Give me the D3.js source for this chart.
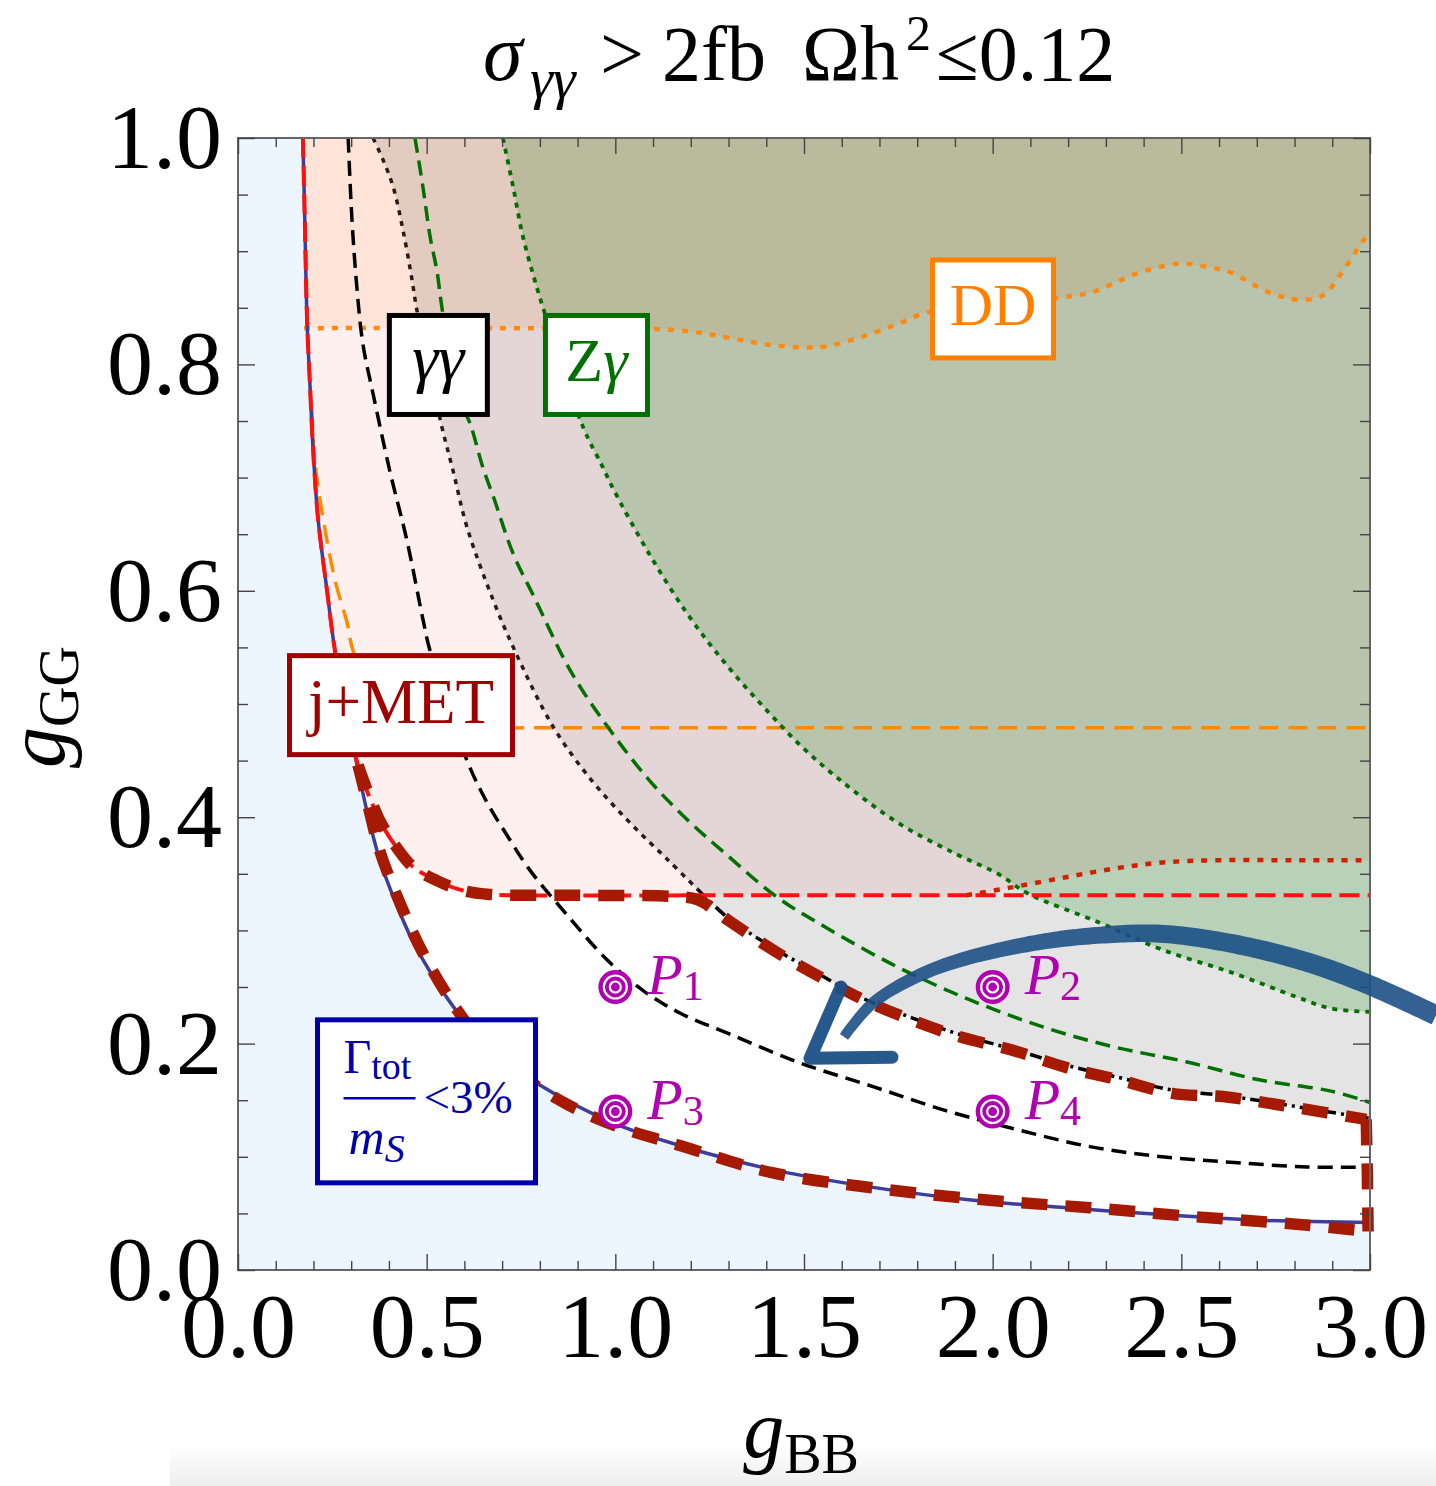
<!DOCTYPE html>
<html>
<head>
<meta charset="utf-8">
<script src="https://cdn.jsdelivr.net/npm/d3@7"></script>
<style>
  html, body { margin: 0; padding: 0; background: #fff; }
  svg { display: block; }
  text { font-family: "Liberation Serif", "Times New Roman", serif; }
</style>
</head>
<body>
<svg id="chart" width="1436" height="1486"></svg>
<script>
// ---------------------------------------------------------------
// Contours in the (gBB, gGG) plane, each as [gBB, gGG] pairs
// ---------------------------------------------------------------

// Total width bound: Gamma_tot / m_S = 3 %
const widthCurve = [
  [0.172, 1.000], [0.177, 0.928], [0.183, 0.839], [0.191, 0.780], [0.199, 0.725],
  [0.212, 0.664], [0.236, 0.600], [0.257, 0.547], [0.288, 0.492], [0.310, 0.455],
  [0.342, 0.405], [0.376, 0.362], [0.421, 0.322], [0.464, 0.290], [0.527, 0.254],
  [0.588, 0.225], [0.665, 0.196], [0.792, 0.165], [0.994, 0.130], [1.171, 0.110],
  [1.426, 0.088], [1.683, 0.073], [1.937, 0.062], [2.194, 0.055], [2.449, 0.049],
  [2.706, 0.044], [3.000, 0.042]
];

// Mono-jet + missing energy bound (dashed red)
const jmetCurve = [
  [0.172, 1.000], [0.177, 0.928], [0.183, 0.839], [0.191, 0.780], [0.199, 0.725],
  [0.212, 0.664], [0.236, 0.600], [0.257, 0.547], [0.288, 0.492], [0.318, 0.446],
  [0.376, 0.397], [0.421, 0.373], [0.464, 0.356], [0.527, 0.344], [0.588, 0.336],
  [0.660, 0.332], [0.747, 0.331], [1.300, 0.331], [1.930, 0.331], [2.500, 0.331],
  [3.000, 0.331]
];
// Mono-jet bound, upper branch (dotted red)
const jmetUpper = [
  [1.930, 0.331], [2.050, 0.338], [2.194, 0.347], [2.330, 0.355], [2.449, 0.360],
  [2.600, 0.362], [2.800, 0.362], [3.000, 0.362]
];

// Diphoton resonance search (dashed black)
const diphotonCurve = [
  [0.292, 1.000], [0.302, 0.928], [0.315, 0.868], [0.331, 0.818], [0.358, 0.774],
  [0.403, 0.705], [0.448, 0.644], [0.490, 0.575], [0.509, 0.547], [0.607, 0.450],
  [0.660, 0.413], [0.713, 0.384], [0.774, 0.353], [0.861, 0.318], [0.978, 0.274],
  [1.073, 0.247], [1.171, 0.227], [1.299, 0.209], [1.489, 0.183], [1.683, 0.162],
  [1.874, 0.141], [2.065, 0.124], [2.258, 0.109], [2.449, 0.100], [2.640, 0.095],
  [2.833, 0.091], [3.000, 0.091]
];

// Edge of the grey excluded band: dotted part, then dot-dashed part
const greyDotted = [
  [0.358, 1.000], [0.384, 0.981], [0.411, 0.957], [0.437, 0.919], [0.461, 0.875],
  [0.474, 0.848], [0.509, 0.795], [0.538, 0.748], [0.570, 0.706], [0.607, 0.656],
  [0.676, 0.592], [0.731, 0.549], [0.835, 0.480], [0.936, 0.433], [1.039, 0.395],
  [1.140, 0.362], [1.219, 0.336]
];
const greyDotDash = [
  [1.219, 0.336], [1.299, 0.311], [1.426, 0.283], [1.542, 0.261], [1.656, 0.240],
  [1.784, 0.223], [1.913, 0.208], [2.054, 0.195], [2.194, 0.181], [2.335, 0.170],
  [2.475, 0.159], [2.616, 0.154], [2.756, 0.147], [2.883, 0.140], [3.000, 0.134]
];

// Z-photon search: dashed line and dotted excluded-region edge (green)
const zgammaDashed = [
  [0.469, 1.000], [0.490, 0.957], [0.509, 0.913], [0.527, 0.883], [0.543, 0.845],
  [0.596, 0.762], [0.615, 0.748], [0.649, 0.709], [0.678, 0.682], [0.729, 0.633],
  [0.784, 0.595], [0.885, 0.527], [0.986, 0.477], [1.089, 0.433], [1.190, 0.398],
  [1.291, 0.368], [1.426, 0.330], [1.556, 0.303], [1.746, 0.268], [1.937, 0.239],
  [2.131, 0.215], [2.322, 0.197], [2.512, 0.184], [2.706, 0.168], [2.897, 0.158],
  [3.000, 0.148]
];
const zgammaDotted = [
  [0.702, 1.000], [0.729, 0.957], [0.755, 0.913], [0.792, 0.868], [0.819, 0.839],
  [0.914, 0.745], [0.967, 0.709], [0.996, 0.689], [1.089, 0.633], [1.190, 0.580],
  [1.291, 0.536], [1.394, 0.497], [1.495, 0.462], [1.595, 0.433], [1.749, 0.395],
  [1.900, 0.368], [2.019, 0.349], [2.091, 0.333], [2.282, 0.307], [2.449, 0.283],
  [2.640, 0.262], [2.807, 0.241], [2.897, 0.231], [3.000, 0.228]
];

// Direct detection: dotted excluded-region edge and dashed line (orange)
const ddDotted = [
  [0.175, 0.832], [0.600, 0.832], [1.171, 0.830], [1.293, 0.824], [1.391, 0.818],
  [1.500, 0.815], [1.561, 0.816], [1.659, 0.825], [1.744, 0.835], [1.829, 0.846],
  [2.181, 0.859], [2.266, 0.864], [2.388, 0.881], [2.497, 0.889], [2.571, 0.886],
  [2.632, 0.881], [2.730, 0.864], [2.815, 0.857], [2.876, 0.861], [2.923, 0.880],
  [2.984, 0.910], [3.000, 0.916]
];
const ddDashed = [
  [0.196, 0.760], [0.204, 0.713], [0.236, 0.644], [0.262, 0.603], [0.289, 0.572],
  [0.305, 0.547], [0.360, 0.510], [0.450, 0.485], [0.588, 0.479], [0.800, 0.479],
  [1.500, 0.479], [2.200, 0.479], [3.000, 0.479]
];

// Boundary of the surviving region (thick dashed dark red)
const allowedUpper = [
  [0.318, 0.446], [0.376, 0.397], [0.421, 0.373], [0.464, 0.356], [0.527, 0.344],
  [0.588, 0.336], [0.660, 0.332], [0.900, 0.331], [1.153, 0.330], [1.219, 0.327],
  [1.299, 0.309], [1.426, 0.281], [1.542, 0.259], [1.656, 0.239], [1.784, 0.221],
  [1.913, 0.206], [2.054, 0.194], [2.194, 0.179], [2.335, 0.168], [2.475, 0.156],
  [2.616, 0.153], [2.756, 0.146], [2.883, 0.139], [2.990, 0.133]
];
const allowedRight = [[2.990, 0.133], [2.993, 0.084], [2.995, 0.034]];
const allowedLower = [
  [0.318, 0.446], [0.342, 0.414], [0.376, 0.370], [0.437, 0.318], [0.490, 0.280],
  [0.570, 0.235], [0.649, 0.201], [0.755, 0.171], [0.880, 0.145], [1.012, 0.126],
  [1.171, 0.110], [1.415, 0.086], [1.696, 0.072], [1.977, 0.062], [2.258, 0.055],
  [2.539, 0.047], [2.820, 0.040], [2.995, 0.034]
];

// Benchmark points
const pointNames = ["1", "2", "3", "4"];
const pointBB = [1.0, 2.0, 1.0, 2.0];
const pointGG = [0.25, 0.25, 0.14, 0.14];

// Sweep arrow (shaft from tail to tip, then the head)
const arrowShaft = [
  [3.175, 0.225], [2.997, 0.252], [2.833, 0.272], [2.640, 0.288], [2.449, 0.297],
  [2.295, 0.296], [2.131, 0.290], [1.937, 0.276], [1.810, 0.261], [1.683, 0.236],
  [1.606, 0.206]
];
const arrowHead = [[1.598, 0.250], [1.516, 0.187], [1.733, 0.188]];

// Axis ticks
const xMajorTicks = [0, 0.5, 1.0, 1.5, 2.0, 2.5, 3.0];
const xTickLabels = ["0.0", "0.5", "1.0", "1.5", "2.0", "2.5", "3.0"];
const yMajorTicks = [0, 0.2, 0.4, 0.6, 0.8, 1.0];
const yTickLabels = ["0.0", "0.2", "0.4", "0.6", "0.8", "1.0"];
const xMinorTicks = d3.range(0, 3.0001, 0.1).filter(v => Math.abs(v * 2 - Math.round(v * 2)) > 1e-6);
const yMinorTicks = d3.range(0, 1.0001, 0.05).filter(v => Math.abs(v * 5 - Math.round(v * 5)) > 1e-6);

// ---------------------------------------------------------------
const svg = d3.select("#chart");
const x = d3.scaleLinear().domain([0, 3]).range([238, 1370]);
const y = d3.scaleLinear().domain([0, 1]).range([1270, 138]);

const smooth = d3.line().x(d => x(d[0])).y(d => y(d[1])).curve(d3.curveCatmullRom.alpha(0.5));
const straight = d3.line().x(d => x(d[0])).y(d => y(d[1]));
const region = (pts, corners) =>
  smooth(pts) + corners.map(c => `L${x(c[0])},${y(c[1])}`).join("") + "Z";

const defs = svg.append("defs");
defs.append("clipPath").attr("id", "plotClip")
  .append("rect").attr("x", x(0)).attr("y", y(1))
  .attr("width", x(3) - x(0)).attr("height", y(0) - y(1));
defs.append("clipPath").attr("id", "aboveWidth")
  .append("path").attr("d", region(widthCurve, [[3, 1]]));

const haze = defs.append("linearGradient").attr("id", "haze")
  .attr("x1", 0).attr("y1", 0).attr("x2", 0).attr("y2", 1);
haze.append("stop").attr("offset", 0).attr("stop-color", "#fff");
haze.append("stop").attr("offset", 1).attr("stop-color", "#eeeeee");
svg.append("rect").attr("x", 170).attr("y", 1445).attr("width", 1266).attr("height", 41)
  .attr("fill", "url(#haze)");

const plot = svg.append("g").attr("clip-path", "url(#plotClip)");

// excluded by the width bound
plot.append("rect").attr("x", x(0)).attr("y", y(1))
  .attr("width", x(3) - x(0)).attr("height", y(0) - y(1)).attr("fill", "#edf5fe");
plot.append("path").attr("d", region(widthCurve, [[3, 1]])).attr("fill", "#ffffff");

// shaded exclusion regions
const shade = plot.append("g").attr("clip-path", "url(#aboveWidth)");
const pinkEdge = jmetCurve.filter(d => d[0] < 1.93).concat(jmetUpper);
shade.append("path").attr("d", region(pinkEdge, [[3, 1]])).attr("fill", "rgba(255,0,0,0.06)");
shade.append("path").attr("d", region(ddDotted, [[3, 1], [0.17, 1]])).attr("fill", "rgba(255,128,0,0.10)");
shade.append("path").attr("d", region(greyDotted.concat(greyDotDash.slice(1)), [[3, 1]]))
  .attr("fill", "rgba(0,0,0,0.105)");
shade.append("path").attr("d", region(zgammaDotted, [[3, 1]])).attr("fill", "rgba(0,120,0,0.19)");

// contour lines
const lines = plot.append("g").attr("fill", "none");
function drawLine(pts, color, width, dash) {
  lines.append("path").attr("d", smooth(pts)).attr("stroke", color)
    .attr("stroke-width", width).attr("stroke-dasharray", dash || null);
}
drawLine(ddDashed, "#ff8a00", 3.5, "19,10");
drawLine(ddDotted, "#ff8a12", 4.5, "6,8");
drawLine(zgammaDotted, "#006e00", 3.8, "5,6");
drawLine(zgammaDashed, "#007000", 3.5, "15,8");
drawLine(greyDotted, "#2a1a1a", 3.5, "5,6");
drawLine(greyDotDash, "#000", 3.5, "12,5,3,5");
drawLine(diphotonCurve, "#000", 3.5, "15,8");
drawLine(widthCurve, "#3d3d9c", 3.5);
drawLine(jmetCurve, "#ff1010", 4, "20,8");
drawLine(jmetUpper, "#d02000", 4.5, "6,8");

// surviving-region boundary
const bound = svg.append("g").attr("fill", "none").attr("stroke", "#a51a00")
  .attr("stroke-width", 11.5).attr("stroke-dasharray", "26,18");
bound.append("path").attr("d", smooth(allowedUpper));
bound.append("path").attr("d", straight(allowedRight));
bound.append("path").attr("d", smooth(allowedLower));

// frame and ticks
svg.append("rect").attr("x", x(0)).attr("y", y(1))
  .attr("width", x(3) - x(0)).attr("height", y(0) - y(1))
  .attr("fill", "none").attr("stroke", "#666").attr("stroke-width", 2);

function axisGroup(axis, tx, ty) {
  const g = svg.append("g").attr("transform", `translate(${tx},${ty})`).call(axis);
  g.select(".domain").remove();
  g.selectAll(".tick line").attr("stroke", "#444").attr("stroke-width", 1.4);
  return g;
}
axisGroup(d3.axisBottom(x).tickValues(xMinorTicks).tickSize(-9).tickFormat(""), 0, y(0));
axisGroup(d3.axisTop(x).tickValues(xMinorTicks).tickSize(-9).tickFormat(""), 0, y(1));
axisGroup(d3.axisTop(x).tickValues(xMajorTicks).tickSize(-16).tickFormat(""), 0, y(1));
axisGroup(d3.axisLeft(y).tickValues(yMinorTicks).tickSize(-10).tickFormat(""), x(0), 0);
axisGroup(d3.axisRight(y).tickValues(yMinorTicks).tickSize(-10).tickFormat(""), x(3), 0);
axisGroup(d3.axisRight(y).tickValues(yMajorTicks).tickSize(-17).tickFormat(""), x(3), 0);

const bx = axisGroup(d3.axisBottom(x).tickValues(xMajorTicks).tickSize(-16).tickPadding(22)
  .tickFormat((d, i) => xTickLabels[i]), 0, y(0));
bx.selectAll("text").attr("font-size", 92).attr("fill", "#000")
  .attr("font-family", "Liberation Serif");
const ly = axisGroup(d3.axisLeft(y).tickValues(yMajorTicks).tickSize(-17).tickPadding(16)
  .tickFormat((d, i) => yTickLabels[i]), x(0), 0);
ly.selectAll("text").attr("font-size", 92).attr("fill", "#000")
  .attr("font-family", "Liberation Serif");

// sweep arrow: tapered brush stroke plus head
const guide = svg.append("path")
  .attr("d", d3.line().x(d => x(d[0])).y(d => y(d[1])).curve(d3.curveCatmullRom)(arrowShaft))
  .attr("fill", "none");
const gNode = guide.node();
const total = gNode.getTotalLength();
const sideA = [], sideB = [];
const steps = 160;
for (let i = 0; i <= steps; i++) {
  const t = i / steps, s = t * total;
  const p = gNode.getPointAtLength(s);
  const p1 = gNode.getPointAtLength(Math.max(0, s - 1));
  const p2 = gNode.getPointAtLength(Math.min(total, s + 1));
  let dx = p2.x - p1.x, dy = p2.y - p1.y;
  const len = Math.hypot(dx, dy) || 1;
  dx /= len; dy /= len;
  const half = (20 - 10 * t * t) / 2;
  sideA.push([p.x - dy * half, p.y + dx * half]);
  sideB.push([p.x + dy * half, p.y - dx * half]);
}
guide.remove();
const arrowColor = "#1c5086";
svg.append("path")
  .attr("d", d3.line()(sideA.concat(sideB.reverse())) + "Z")
  .attr("fill", arrowColor).attr("fill-opacity", 0.9);
svg.append("path").attr("d", straight(arrowHead))
  .attr("fill", "none").attr("stroke", arrowColor).attr("stroke-opacity", 0.95)
  .attr("stroke-width", 13).attr("stroke-linejoin", "round").attr("stroke-linecap", "round");

// benchmark points
const pts = svg.append("g");
pointNames.forEach((name, i) => {
  const cx = x(pointBB[i]), cy = y(pointGG[i]);
  pts.append("circle").attr("cx", cx).attr("cy", cy).attr("r", 17).attr("fill", "#b000b0");
  pts.append("circle").attr("cx", cx).attr("cy", cy).attr("r", 11.5)
    .attr("fill", "none").attr("stroke", "#fff").attr("stroke-width", 2.2);
  pts.append("circle").attr("cx", cx).attr("cy", cy).attr("r", 5.5)
    .attr("fill", "none").attr("stroke", "#fff").attr("stroke-width", 2.2);
  const t = pts.append("text").attr("x", cx + 32).attr("y", cy + 7).attr("fill", "#b000b0");
  t.append("tspan").attr("font-style", "italic").attr("font-size", 58).text("P");
  t.append("tspan").attr("font-size", 42).attr("dy", 6).text(name);
});

// labelled boxes
function labelBox(cxVal, cyVal, w, h, color, stroke) {
  const cx = x(cxVal), cy = y(cyVal);
  svg.append("rect").attr("x", cx - w / 2 + stroke / 2).attr("y", cy - h / 2 + stroke / 2)
    .attr("width", w - stroke).attr("height", h - stroke)
    .attr("fill", "#fff").attr("stroke", color).attr("stroke-width", stroke);
  return [cx, cy];
}
let c;
c = labelBox(0.531, 0.7995, 103, 104, "#000", 5);
svg.append("text").attr("x", c[0]).attr("y", c[1] + 15).attr("text-anchor", "middle")
  .attr("font-size", 66).attr("font-style", "italic").attr("fill", "#000").text("γγ");

c = labelBox(0.950, 0.7995, 107, 104, "#007000", 5);
const zg = svg.append("text").attr("x", c[0]).attr("y", c[1] + 16).attr("text-anchor", "middle")
  .attr("font-size", 62).attr("fill", "#007000");
zg.append("tspan").text("Z");
zg.append("tspan").attr("font-style", "italic").text("γ");

c = labelBox(2.001, 0.849, 126, 103, "#ff8000", 5);
svg.append("text").attr("x", c[0]).attr("y", c[1] + 16).attr("text-anchor", "middle")
  .attr("font-size", 60).attr("fill", "#ff8000").text("DD");

c = labelBox(0.432, 0.499, 228, 104, "#a00000", 5);
svg.append("text").attr("x", c[0]).attr("y", c[1] + 18).attr("text-anchor", "middle")
  .attr("font-size", 63).attr("fill", "#a00000").text("j+MET");

c = labelBox(0.4996, 0.149, 223, 168, "#0000a8", 5);
const blue = "#0000a8";
const gx0 = c[0] - 83;
const gt = svg.append("text").attr("x", gx0).attr("y", c[1] - 28).attr("fill", blue);
gt.append("tspan").attr("font-size", 48).text("Γ");
gt.append("tspan").attr("font-size", 38).attr("dy", 6).text("tot");
svg.append("line").attr("x1", gx0).attr("x2", gx0 + 72)
  .attr("y1", c[1] - 3).attr("y2", c[1] - 3).attr("stroke", blue).attr("stroke-width", 2.5);
const ms = svg.append("text").attr("x", gx0 + 5).attr("y", c[1] + 53).attr("fill", blue)
  .attr("font-style", "italic");
ms.append("tspan").attr("font-size", 50).text("m");
ms.append("tspan").attr("font-size", 40).attr("dy", 8).text("S");
svg.append("text").attr("x", gx0 + 80).attr("y", c[1] + 12).attr("fill", blue)
  .attr("font-size", 47).text("<3%");

// title
const title = svg.append("g").attr("fill", "#000");
title.append("text").attr("x", 483).attr("y", 80).attr("font-size", 80)
  .attr("font-style", "italic").text("σ");
title.append("text").attr("x", 530).attr("y", 98).attr("font-size", 58)
  .attr("font-style", "italic").text("γγ");
title.append("text").attr("x", 600).attr("y", 80).attr("font-size", 78).text(">");
title.append("text").attr("x", 662).attr("y", 80).attr("font-size", 78).text("2fb");
title.append("text").attr("x", 802).attr("y", 80).attr("font-size", 78).text("Ωh");
title.append("text").attr("x", 906).attr("y", 50).attr("font-size", 50).text("2");
title.append("text").attr("x", 936).attr("y", 80).attr("font-size", 78).text("≤0.12");

// axis titles
const xl = svg.append("text").attr("x", 801).attr("y", 1457).attr("text-anchor", "middle")
  .attr("fill", "#000");
xl.append("tspan").attr("font-size", 82).attr("font-style", "italic").text("g");
xl.append("tspan").attr("font-size", 56).attr("dy", 16).text("BB");

const yl = svg.append("text").attr("transform", "translate(64,707) rotate(-90)")
  .attr("text-anchor", "middle").attr("fill", "#000");
yl.append("tspan").attr("font-size", 82).attr("font-style", "italic").text("g");
yl.append("tspan").attr("font-size", 56).attr("dy", 14).text("GG");
</script>
</body>
</html>
